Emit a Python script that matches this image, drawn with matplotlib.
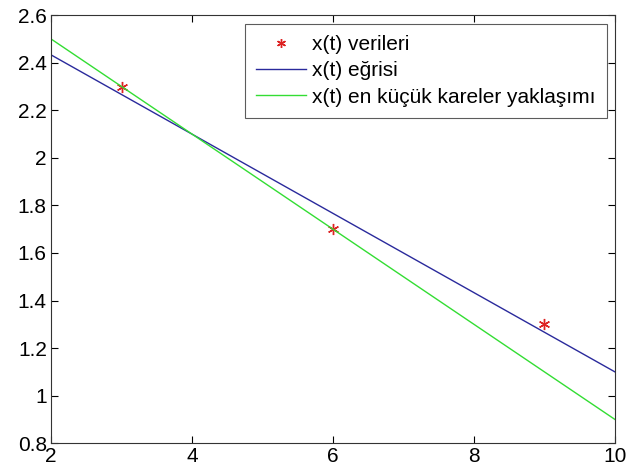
import numpy as np
import matplotlib.pyplot as plt
from matplotlib.ticker import FuncFormatter

plt.rcParams['font.family'] = ['Liberation Sans', 'DejaVu Sans']

# measured data
t_data = [3, 6, 9]
x_data = [2.3, 1.7, 1.3]

# curve endpoints over the plotted range
t_line = [2, 10]
x_curve = [2.433, 1.100]
x_lsq = [2.5, 0.9]

fig = plt.figure(figsize=(6.3, 4.74), dpi=100)
ax = fig.add_axes([0.081, 0.065, 0.895, 0.903])

ax.plot(t_data, x_data, linestyle='none', marker=(6, 2, 0), markersize=8,
        markeredgewidth=1.0, color='#dd2222', label='x(t) verileri')
ax.plot(t_line, x_curve, color='#2a2a9c', linewidth=1.0, label='x(t) eğrisi')
ax.plot(t_line, x_lsq, color='#33dd33', linewidth=1.0,
        label='x(t) en küçük kareler yaklaşımı')

ax.set_xlim(2, 10)
ax.set_ylim(0.8, 2.6)
ax.set_xticks([2, 4, 6, 8, 10])
ax.set_yticks(np.arange(0.8, 2.61, 0.2))
ax.yaxis.set_major_formatter(FuncFormatter(lambda v, p: f'{round(v, 1):g}'))
ax.tick_params(direction='in', top=True, right=True, labelsize=15, length=5,
               width=0.8, pad=3)
for s in ax.spines.values():
    s.set_linewidth(0.8)
    s.set_color('#333333')

leg = ax.legend(loc='upper right', fontsize=15, frameon=True, fancybox=False,
                edgecolor='#333333', handlelength=2.4, handletextpad=0.25,
                borderpad=0.55, labelspacing=0.35, borderaxespad=0.4,
                markerscale=0.8)
leg.get_frame().set_linewidth(0.8)

fig.savefig('out.png', dpi=100)
